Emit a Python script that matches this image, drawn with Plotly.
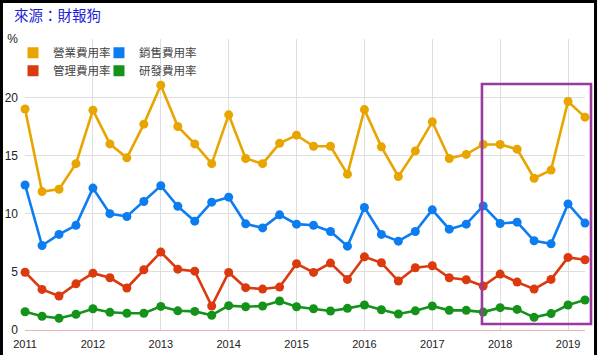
import plotly.graph_objects as go

# Quarterly periods 2011Q1 .. 2019Q2
years = [2011]*4 + [2012]*4 + [2013]*4 + [2014]*4 + [2015]*4 + [2016]*4 + [2017]*4 + [2018]*4 + [2019]*2
quarters = [1, 2, 3, 4]*8 + [1, 2]

operating = [19.0, 11.9, 12.1, 14.3, 18.9, 16.0, 14.8, 17.7, 21.05, 17.5, 16.0, 14.3,
             18.5, 14.75, 14.3, 16.05, 16.75, 15.8, 15.8, 13.4, 18.95, 15.75, 13.2, 15.4,
             17.9, 14.75, 15.1, 15.95, 15.95, 15.55, 13.05, 13.75, 19.65, 18.3]
selling = [12.47, 7.26, 8.22, 9.0, 12.2, 10.0, 9.76, 11.05, 12.4, 10.64, 9.36, 10.99,
           11.42, 9.13, 8.78, 9.9, 9.1, 9.0, 8.47, 7.21, 10.53, 8.22, 7.64, 8.47,
           10.33, 8.67, 9.1, 10.67, 9.16, 9.27, 7.67, 7.41, 10.84, 9.19]
admin = [4.97, 3.49, 2.92, 3.97, 4.89, 4.49, 3.61, 5.18, 6.7, 5.23, 5.06, 2.06,
         4.95, 3.64, 3.52, 3.69, 5.7, 4.95, 5.75, 4.35, 6.29, 5.78, 4.21, 5.35,
         5.52, 4.49, 4.32, 3.78, 4.81, 4.12, 3.52, 4.35, 6.24, 6.04]
rnd = [1.57, 1.18, 1.01, 1.35, 1.83, 1.52, 1.44, 1.44, 2.03, 1.65, 1.6, 1.27,
       2.09, 2.0, 2.06, 2.49, 2.0, 1.83, 1.63, 1.86, 2.15, 1.74, 1.38, 1.65,
       2.06, 1.69, 1.69, 1.54, 1.92, 1.77, 1.09, 1.41, 2.15, 2.58]

series_names = ["營業費用率", "銷售費用率", "管理費用率", "研發費用率"]
series_colors = ["#E8A500", "#0C7DF0", "#DB3A0E", "#14921A"]
year_ticks = [2011, 2012, 2013, 2014, 2015, 2016, 2017, 2018, 2019]
y_ticks = [0, 5, 10, 15, 20, 25]
y_ticktext = ["0", "5", "10", "15", "20", "%"]

x = [y + (q - 1) / 4 for y, q in zip(years, quarters)]
data = [operating, selling, admin, rnd]

fig = go.Figure()
for name, vals, col in zip(series_names, data, series_colors):
    fig.add_trace(go.Scatter(
        x=x, y=vals, mode="lines+markers", name=name, showlegend=False,
        line=dict(color=col, width=2.6), marker=dict(color=col, size=9),
        cliponaxis=False))

# legend entries: 2 x 2 grid, one legend box per entry
legend_ids = ["legend", "legend2", "legend3", "legend4"]
for name, col, lg in zip(series_names, series_colors, legend_ids):
    fig.add_trace(go.Scatter(
        x=[None], y=[None], mode="markers", name=name, legend=lg,
        marker=dict(symbol="square", size=11, color=col)))

legend_font = dict(family="Noto Sans CJK TC", size=11.5, color="#444444")
leg_common = dict(orientation="h", xanchor="left", yanchor="middle", font=legend_font,
                  bgcolor="rgba(0,0,0,0)", itemclick=False, itemdoubleclick=False)
fig.update_layout(
    width=600, height=355,
    margin=dict(l=25, r=15, t=39, b=25),
    paper_bgcolor="white", plot_bgcolor="white",
    legend=dict(x=-0.0214, y=0.953, **leg_common),
    legend2=dict(x=0.1321, y=0.953, **leg_common),
    legend3=dict(x=-0.0214, y=0.891, **leg_common),
    legend4=dict(x=0.1321, y=0.891, **leg_common),
    xaxis=dict(range=[2010.999, 2019.25], tickmode="array", tickvals=year_ticks,
               ticktext=[str(v) for v in year_ticks], showgrid=True, gridcolor="#DEDEDE",
               gridwidth=1, zeroline=False, showline=True, linecolor="#E8B4B4", linewidth=1,
               tickfont=dict(family="Liberation Sans", size=11, color="#222222"),
               ticks="", ticklabelstandoff=4, automargin=False),
    yaxis=dict(range=[0, 25.02], tickmode="array", tickvals=y_ticks, ticktext=y_ticktext,
               showgrid=True, gridcolor="#DEDEDE", gridwidth=1, zeroline=False,
               tickfont=dict(family="Liberation Sans", size=12, color="#222222"),
               ticks="", ticklabelstandoff=6, automargin=False),
    annotations=[dict(text="來源：財報狗", xref="paper", yref="paper", x=-0.024, y=1.0825,
                      xanchor="left", yanchor="middle", showarrow=False,
                      font=dict(family="Noto Sans CJK TC", size=14.5, color="#1E1ED8"))],
    shapes=[
        dict(type="rect", xref="paper", yref="paper", x0=-0.042, x1=1.0188, y0=-0.14, y1=1.129,
             line=dict(color="black", width=3), fillcolor="rgba(0,0,0,0)", layer="above"),
        dict(type="rect", xref="paper", yref="paper", x0=0.816, x1=1.0107, y0=0.0206, y1=0.8454,
             line=dict(color="#9A3A9E", width=2.6), fillcolor="rgba(0,0,0,0)", layer="above"),
    ],
)

fig.write_html("out.html", config={"displayModeBar": False},
               post_script="document.body.style.margin='0';document.body.style.overflow='hidden';")
